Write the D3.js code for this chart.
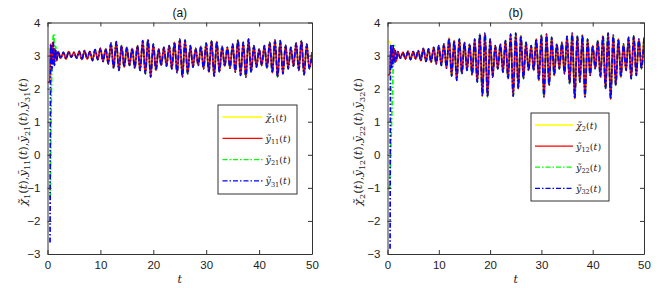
<!DOCTYPE html>
<html>
<head>
<meta charset="utf-8">
<script src="https://cdn.jsdelivr.net/npm/d3@7"></script>
<style>
  body { margin: 0; background: #fff; }
</style>
</head>
<body>
<div id="chart"></div>
<script>

// ---- data ----
var xTicks = [0, 10, 20, 30, 40, 50],
    yTicks = [-3, -2, -1, 0, 1, 2, 3, 4];

// after t = 2 all four curves of a panel sit on top of each other:
// successive peaks / troughs, one every half unit of t
var steadyStart = 2, steadyStep = 0.5;

var steadyA = [
  3.12, 2.92, 3.10, 2.90, 3.12, 2.95, 3.10, 2.92, 3.13, 2.88, 3.15, 2.90, 3.12, 2.85, 3.18, 2.88,
  3.22, 2.82, 3.20, 2.75,
  3.38, 2.62, 3.42, 2.55, 3.30, 2.65, 3.25, 2.70, 3.22, 2.62,
  3.30, 2.55, 3.45, 2.45, 3.48, 2.35, 3.35, 2.55, 3.20, 2.70,
  3.25, 2.68, 3.30, 2.60, 3.40, 2.48, 3.50, 2.35, 3.47, 2.45, 3.30, 2.65,
  3.22, 2.70, 3.28, 2.60, 3.38, 2.50, 3.45, 2.38, 3.42, 2.50, 3.28, 2.68,
  3.25, 2.62, 3.35, 2.50, 3.47, 2.40, 3.40, 2.35, 3.50, 2.50, 3.30, 2.65,
  3.20, 2.70, 3.30, 2.62, 3.40, 2.48, 3.47, 2.35, 3.45, 2.45, 3.32, 2.60,
  3.25, 2.68, 3.38, 2.55, 3.45, 2.42, 3.35, 2.60, 3.10
];

var steadyB = [
  3.12, 2.92, 3.10, 2.90, 3.13, 2.88, 3.12, 2.90, 3.15, 2.85, 3.22, 2.82, 3.20, 2.80, 3.25, 2.75,
  3.30, 2.70, 3.35, 2.62,
  3.52, 2.38, 3.45, 2.25, 3.50, 2.45, 3.40, 2.55, 3.35, 2.42,
  3.50, 2.20, 3.65, 1.78, 3.68, 1.75, 3.50, 2.35, 3.30, 2.60,
  3.35, 2.50, 3.45, 2.30, 3.65, 1.77, 3.68, 2.00, 3.60, 2.30, 3.40, 2.55,
  3.30, 2.55, 3.50, 2.25, 3.62, 1.75, 3.65, 2.10, 3.55, 2.40, 3.35, 2.60,
  3.40, 2.45, 3.58, 2.15, 3.68, 1.70, 3.60, 2.20, 3.62, 1.75, 3.50, 2.40,
  3.30, 2.60, 3.45, 2.35, 3.60, 2.00, 3.68, 1.68, 3.62, 2.10, 3.50, 2.35,
  3.35, 2.55, 3.55, 2.30, 3.60, 2.40, 3.50, 2.60, 3.55
];

// transients before t = 2, [t, value]
var x1Start  = [[0, 3.2], [0.5, 3.2], [0.7, 2.95], [0.9, 3.15], [1.1, 2.9], [1.35, 3.1], [1.6, 2.9], [1.8, 3.0]];
var y11Start = [[0, 2.2], [0.45, 2.2], [0.55, 3.35], [0.75, 2.8], [0.95, 3.4], [1.15, 2.75], [1.4, 3.2], [1.7, 2.85]];
var y21Start = [[0.5, -1.3], [0.75, 2.0], [1.0, 3.4], [1.2, 3.65], [1.35, 2.7], [1.55, 3.3], [1.75, 2.85]];
var y31Start = [[0.48, -2.65], [0.62, 3.35], [0.85, 2.55], [1.1, 3.4], [1.3, 2.7], [1.5, 3.2], [1.75, 2.85]];

var x2Start  = [[0, 3.42], [0.5, 3.42], [0.6, 3.0], [0.9, 3.2], [1.2, 2.85], [1.5, 3.15], [1.75, 2.9]];
var y12Start = [[0, 2.42], [0.45, 2.42], [0.55, 3.0], [0.8, 3.3], [1.05, 2.75], [1.3, 3.2], [1.55, 2.8], [1.75, 2.88]];
var y22Start = [[0.4, -1.05], [0.9, 1.5], [1.3, 3.3], [1.45, 2.8], [1.6, 3.05], [1.75, 2.85]];
var y32Start = [[0.5, -2.84], [0.62, 3.3], [0.85, 2.6], [1.05, 3.35], [1.3, 2.75], [1.55, 3.15], [1.75, 2.88]];

var colors = ["#ffff00", "#ff0000", "#00ff00", "#0000ff"],
    dashes = [null, null, "5,2,1.5,2", "5,2,1.5,2"],
    drawOrder = [2, 0, 1, 3];

// labels: [text, subscript]
var legendA = [["χ\u0303", "1"], ["y\u0303", "11"], ["y\u0303", "21"], ["y\u0303", "31"]];
var legendB = [["χ\u0303", "2"], ["y\u0303", "12"], ["y\u0303", "22"], ["y\u0303", "32"]];

var svg = d3.select("#chart").append("svg")
    .attr("width", 660)
    .attr("height", 288)
    .style("font-family", "Liberation Sans, Arial, sans-serif");

var axisColor = "#333";

function mathLabel(sel, parts, size) {
  parts.forEach(function(p, i) {
    sel.append("tspan").style("font-style", "italic").text(p[0]);
    sel.append("tspan").attr("font-size", size * 0.7).attr("dy", size * 0.25).text(p[1]);
    sel.append("tspan").attr("dy", -size * 0.25).text("(");
    sel.append("tspan").style("font-style", "italic").text("t");
    sel.append("tspan").text(i < parts.length - 1 ? ")," : ")");
  });
}

function drawPanel(cfg) {
  var x = d3.scaleLinear().domain([0, 50]).range([cfg.left, cfg.right]);
  var y = d3.scaleLinear().domain([-3, 4]).range([254, 22.5]);

  var g = svg.append("g");

  g.append("clipPath").attr("id", "clip" + cfg.id)
    .append("rect")
      .attr("x", cfg.left).attr("y", 22.5)
      .attr("width", cfg.right - cfg.left).attr("height", 254 - 22.5);

  var line = d3.line()
      .x(function(d) { return x(d[0]); })
      .y(function(d) { return y(d[1]); })
      .curve(d3.curveMonotoneX);

  var steadyPts = cfg.steady.map(function(v, i) { return [steadyStart + i * steadyStep, v]; });

  drawOrder.forEach(function(i) {
    g.append("path")
      .attr("d", line(cfg.starts[i].concat(steadyPts)))
      .attr("clip-path", "url(#clip" + cfg.id + ")")
      .style("fill", "none")
      .style("stroke", colors[i])
      .style("stroke-width", 1.7)
      .style("stroke-dasharray", dashes[i]);
  });

  // box + ticks, ticks pointing inwards on all four sides
  var tl = 4;
  g.append("g").attr("transform", "translate(0,254)")
    .call(d3.axisBottom(x).tickValues(xTicks).tickSizeInner(-tl).tickSizeOuter(0).tickPadding(7).tickFormat(d3.format("d")));
  g.append("g").attr("transform", "translate(0,22.5)")
    .call(d3.axisTop(x).tickValues(xTicks).tickSizeInner(-tl).tickSizeOuter(0).tickFormat(""));
  g.append("g").attr("transform", "translate(" + cfg.left + ",0)")
    .call(d3.axisLeft(y).tickValues(yTicks).tickSizeInner(-tl).tickSizeOuter(0).tickPadding(7).tickFormat(d3.format("d")));
  g.append("g").attr("transform", "translate(" + cfg.right + ",0)")
    .call(d3.axisRight(y).tickValues(yTicks).tickSizeInner(-tl).tickSizeOuter(0).tickFormat(""));

  g.selectAll(".domain").style("stroke", axisColor).style("stroke-width", 1);
  g.selectAll(".tick line").style("stroke", axisColor);
  g.selectAll(".tick text")
    .style("font-family", "Liberation Sans, Arial, sans-serif")
    .style("font-size", "11.5px")
    .style("fill", "#222");

  // title
  g.append("text")
    .attr("x", (cfg.left + cfg.right) / 2)
    .attr("y", 17)
    .style("text-anchor", "middle")
    .style("font-size", "12px")
    .style("fill", "#111")
    .text(cfg.title);

  // x label
  g.append("text")
    .attr("x", (cfg.left + cfg.right) / 2)
    .attr("y", 283)
    .style("text-anchor", "middle")
    .style("font-family", "DejaVu Serif, serif")
    .style("font-style", "italic")
    .style("font-size", "11px")
    .style("fill", "#222")
    .text("t");

  // y label
  var yl = g.append("text")
    .attr("transform", "translate(" + cfg.ylx + ",142) rotate(-90)")
    .style("text-anchor", "middle")
    .style("font-family", "DejaVu Serif, serif")
    .style("font-size", "11.5px")
    .style("fill", "#222");
  mathLabel(yl, cfg.labels, 11.5);

  // legend
  var lg = g.append("g").attr("transform", "translate(" + cfg.legX + "," + cfg.legY + ")");
  lg.append("rect")
    .attr("width", cfg.legW).attr("height", cfg.legH)
    .style("fill", "#fff")
    .style("stroke", "#333")
    .style("stroke-width", 1);
  cfg.labels.forEach(function(lab, i) {
    var ry = cfg.rowY0 + i * cfg.rowDy;
    lg.append("line")
      .attr("x1", cfg.sx1).attr("x2", cfg.sx2)
      .attr("y1", ry).attr("y2", ry)
      .style("stroke", colors[i])
      .style("stroke-width", 1.3)
      .style("stroke-dasharray", dashes[i]);
    var t = lg.append("text")
      .attr("x", cfg.sx2 + 3)
      .attr("y", ry + 3.5)
      .style("font-family", "DejaVu Serif, serif")
      .style("font-size", "9.5px")
      .style("fill", "#222");
    mathLabel(t, [lab], 9.5);
  });
}

drawPanel({
  id: "a", left: 47.5, right: 312, title: "(a)", ylx: 27,
  steady: steadyA, starts: [x1Start, y11Start, y21Start, y31Start], labels: legendA,
  legX: 218, legY: 105, legW: 79, legH: 89, rowY0: 12, rowDy: 21.3, sx1: 4.5, sx2: 44.5
});

drawPanel({
  id: "b", left: 387.5, right: 644, title: "(b)", ylx: 362,
  steady: steadyB, starts: [x2Start, y12Start, y22Start, y32Start], labels: legendB,
  legX: 531, legY: 113, legW: 78, legH: 88, rowY0: 12, rowDy: 21.1, sx1: 4, sx2: 42
});

</script>
</body>
</html>
